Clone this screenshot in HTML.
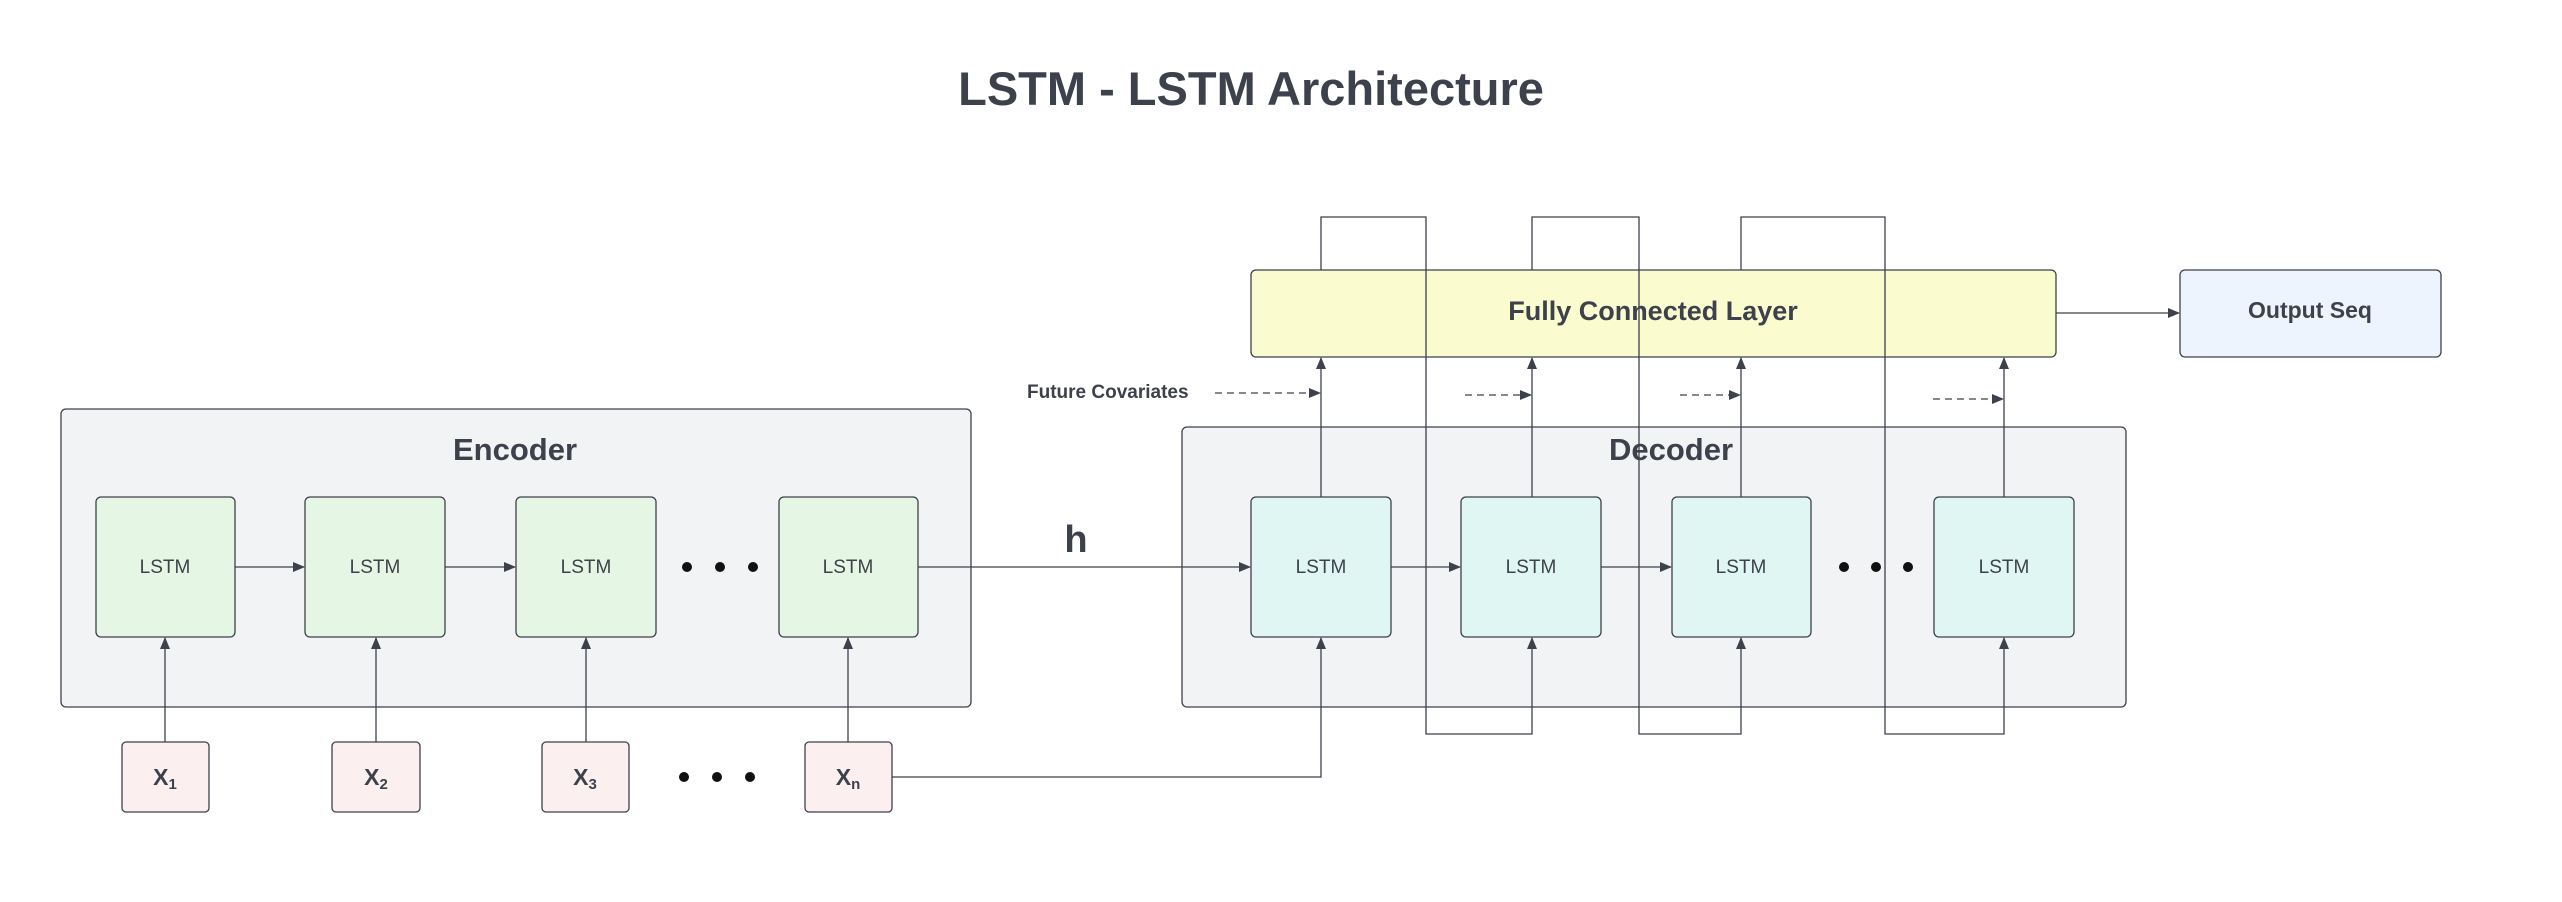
<!DOCTYPE html>
<html><head><meta charset="utf-8"><style>
html,body{margin:0;padding:0;background:#fff;}
svg{display:block;}
text{font-family:"Liberation Sans",Arial,sans-serif;fill:#3d414b;}
</style></head><body>
<svg width="2562" height="902" viewBox="0 0 2562 902" xmlns="http://www.w3.org/2000/svg">
<defs>
<marker id="a" markerWidth="12" markerHeight="10" refX="11" refY="5" orient="auto" markerUnits="userSpaceOnUse">
<path d="M0,0 L12,5 L0,10 Z" fill="#3d414b"/></marker>
</defs>
<text x="1251" y="105" text-anchor="middle" font-size="47" font-weight="bold">LSTM - LSTM Architecture</text>

<!-- Encoder -->
<rect x="61" y="409" width="910" height="298" rx="5" fill="#f2f3f5" stroke="#3d414b" stroke-width="1.3"/>
<text x="515" y="460" text-anchor="middle" font-size="31" font-weight="bold">Encoder</text>
<g fill="#e6f6e4" stroke="#3d414b" stroke-width="1.3">
<rect x="96" y="497" width="139" height="140" rx="5"/>
<rect x="305" y="497" width="140" height="140" rx="5"/>
<rect x="516" y="497" width="140" height="140" rx="5"/>
<rect x="779" y="497" width="139" height="140" rx="5"/>
</g>
<g font-size="19" text-anchor="middle" style="fill:#4a4f58">
<text x="165" y="573">LSTM</text><text x="375" y="573">LSTM</text><text x="586" y="573">LSTM</text><text x="848" y="573">LSTM</text>
</g>
<g fill="#111"><circle cx="687" cy="567" r="5"/><circle cx="720" cy="567" r="5"/><circle cx="753" cy="567" r="5"/></g>

<!-- X boxes -->
<g fill="#fcefef" stroke="#3d414b" stroke-width="1.3">
<rect x="122" y="742" width="87" height="70" rx="4"/>
<rect x="332" y="742" width="88" height="70" rx="4"/>
<rect x="542" y="742" width="87" height="70" rx="4"/>
<rect x="805" y="742" width="87" height="70" rx="4"/>
</g>
<g font-size="23" font-weight="bold" text-anchor="middle">
<text x="165" y="785">X<tspan font-size="15" dy="4">1</tspan></text>
<text x="376" y="785">X<tspan font-size="15" dy="4">2</tspan></text>
<text x="585" y="785">X<tspan font-size="15" dy="4">3</tspan></text>
<text x="848" y="785">X<tspan font-size="15" dy="4">n</tspan></text>
</g>
<g fill="#111"><circle cx="684" cy="777" r="5"/><circle cx="717" cy="777" r="5"/><circle cx="750" cy="777" r="5"/></g>

<g stroke="#3d414b" stroke-width="1.3" fill="none">
<line x1="165" y1="742" x2="165" y2="638" marker-end="url(#a)"/>
<line x1="376" y1="742" x2="376" y2="638" marker-end="url(#a)"/>
<line x1="586" y1="742" x2="586" y2="638" marker-end="url(#a)"/>
<line x1="848" y1="742" x2="848" y2="638" marker-end="url(#a)"/>
<line x1="235" y1="567" x2="304" y2="567" marker-end="url(#a)"/>
<line x1="445" y1="567" x2="515" y2="567" marker-end="url(#a)"/>
</g>

<!-- Decoder -->
<rect x="1182" y="427" width="944" height="280" rx="5" fill="#f2f3f5" stroke="#3d414b" stroke-width="1.3"/>
<text x="1671" y="460" text-anchor="middle" font-size="31" font-weight="bold">Decoder</text>

<!-- FC / Output -->
<rect x="1251" y="270" width="805" height="87" rx="5" fill="#fbfbd0" stroke="#3d414b" stroke-width="1.3"/>
<text x="1653" y="320" text-anchor="middle" font-size="27" font-weight="bold">Fully Connected Layer</text>
<rect x="2180" y="270" width="261" height="87" rx="5" fill="#eef4fd" stroke="#3d414b" stroke-width="1.3"/>
<text x="2310" y="318" text-anchor="middle" font-size="23" font-weight="bold">Output Seq</text>

<!-- loops -->
<g stroke="#3d414b" stroke-width="1.3" fill="none">
<path d="M1321,270 V217 H1426 V734 H1532 V638" marker-end="url(#a)"/>
<path d="M1532,270 V217 H1639 V734 H1741 V638" marker-end="url(#a)"/>
<path d="M1741,270 V217 H1885 V734 H2004 V638" marker-end="url(#a)"/>
<path d="M892,777 H1321 V638" marker-end="url(#a)"/>
<line x1="918" y1="567" x2="1250" y2="567" marker-end="url(#a)"/>
<line x1="1391" y1="567" x2="1460" y2="567" marker-end="url(#a)"/>
<line x1="1601" y1="567" x2="1671" y2="567" marker-end="url(#a)"/>
<line x1="1321" y1="497" x2="1321" y2="358" marker-end="url(#a)"/>
<line x1="1532" y1="497" x2="1532" y2="358" marker-end="url(#a)"/>
<line x1="1741" y1="497" x2="1741" y2="358" marker-end="url(#a)"/>
<line x1="2004" y1="497" x2="2004" y2="358" marker-end="url(#a)"/>
<line x1="2056" y1="313" x2="2179" y2="313" marker-end="url(#a)"/>
<g stroke-dasharray="7,5">
<line x1="1215" y1="393" x2="1320" y2="393" marker-end="url(#a)"/>
<line x1="1465" y1="395" x2="1531" y2="395" marker-end="url(#a)"/>
<line x1="1680" y1="395" x2="1740" y2="395" marker-end="url(#a)"/>
<line x1="1933" y1="399" x2="2003" y2="399" marker-end="url(#a)"/>
</g>
</g>

<g fill="#dff6f3" stroke="#3d414b" stroke-width="1.3">
<rect x="1251" y="497" width="140" height="140" rx="5"/>
<rect x="1461" y="497" width="140" height="140" rx="5"/>
<rect x="1672" y="497" width="139" height="140" rx="5"/>
<rect x="1934" y="497" width="140" height="140" rx="5"/>
</g>
<g font-size="19" text-anchor="middle" style="fill:#4a4f58">
<text x="1321" y="573">LSTM</text><text x="1531" y="573">LSTM</text><text x="1741" y="573">LSTM</text><text x="2004" y="573">LSTM</text>
</g>
<g fill="#111"><circle cx="1844" cy="567" r="5"/><circle cx="1876" cy="567" r="5"/><circle cx="1908" cy="567" r="5"/></g>

<text x="1076" y="552" text-anchor="middle" font-size="38" font-weight="bold">h</text>
<text x="1027" y="398" font-size="19" font-weight="bold">Future Covariates</text>
</svg>
</body></html>
